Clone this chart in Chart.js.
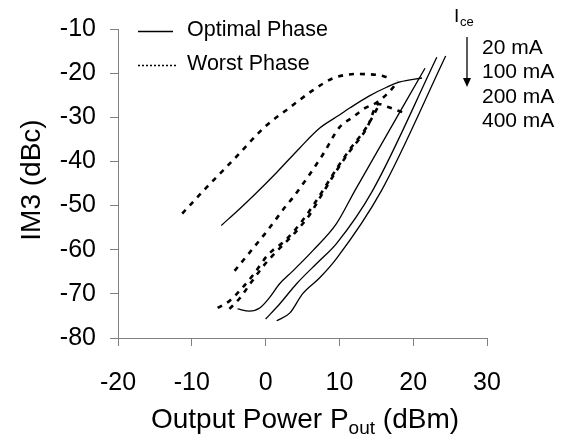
<!DOCTYPE html>
<html>
<head>
<meta charset="utf-8">
<title>IM3 vs output power</title>
<script src="https://cdn.jsdelivr.net/npm/chart.js@4/dist/chart.umd.min.js"></script>
<style>
    html, body { margin: 0; padding: 0; background: #fff; }
    #wrap { width: 570px; height: 445px; position: relative; }
</style>
</head>
<body>
<div id="wrap"><canvas id="im3Chart" width="570" height="445"></canvas></div>
<script>
// Optimal phase (solid lines), output power in dBm and IM3 in dBc
const optPout20 = [-6, -3.5, -1.3, 1.5, 4.6, 7.3, 10, 11.5, 14, 16.4, 18.2, 21.2];
const optIm3_20 = [-54.5, -50.7, -47.2, -42.5, -37, -32.5, -29.5, -27.8, -25.2, -23.2, -22, -21.1];
const optPout100 = [-3.8, -2.2, -0.8, 0.5, 1.9, 3.7, 6.4, 9.6, 12.1, 21.6];
const optIm3_100 = [-73.4, -73.9, -73.2, -70.9, -67.7, -64.8, -60.2, -54.1, -46.6, -18.9];
const optPout200 = [0, 1.9, 4.2, 7.3, 9.6, 14.5, 23.2];
const optIm3_200 = [-75.7, -72.3, -67.7, -62.5, -58.6, -46.6, -16.4];
const optPout400 = [1.5, 3.3, 5.0, 7.3, 9.6, 15.7, 24.4];
const optIm3_400 = [-76.1, -74.3, -70, -66.4, -62, -46.6, -16.1];

// Worst phase (dashed lines)
const worPout20 = [-11.3, -8, -4, 0, 2.8, 6.4, 9.1, 12.3, 15.5, 16.4];
const worIm3_20 = [-51.8, -45.9, -39, -32, -28.4, -23.9, -21.2, -20.2, -20.5, -20.9];
const worPout100 = [-4.2, -2.2, -0.1, 1, 2.8, 3.7, 7.7, 10, 11.8, 13.4, 15.1, 17.2, 17.9];
const worIm3_100 = [-64.8, -60.7, -56.4, -54, -50, -48.2, -38.6, -32.3, -30, -28, -26.6, -23.4, -21.8];
const worPout200 = [-6.5, -4.9, -3.3, -1.5, 0.3, 2.8, 4.9, 6.6, 9.8, 11.4, 13.7, 15.5];
const worIm3_200 = [-73.2, -71.6, -68.9, -65.3, -61.2, -57.7, -53.6, -49.6, -41.2, -37.3, -32.2, -26.8];
const worPout400 = [-4.9, -3.5, -2, -0.2, 1.6, 3.9, 6, 7.3, 9.8, 11.4, 13.7, 15.3, 16.5, 18.6];
const worIm3_400 = [-73.4, -71, -67.5, -63.5, -60.2, -56.3, -52, -48.4, -41.6, -37.7, -32.5, -27, -27.6, -28.9];

const currentLabels = ['20 mA', '100 mA', '200 mA', '400 mA'];
const legendLabels = ['Optimal Phase', 'Worst Phase'];

const FONT = '"Liberation Sans", Arial, sans-serif';
const AXIS_GREY = '#808080';

function toPoints(xs, ys) {
    return xs.map((x, i) => ({ x: x, y: ys[i] }));
}

function solid(label, xs, ys) {
    return {
        label: label,
        data: toPoints(xs, ys),
        borderColor: '#000',
        borderWidth: 1.3,
        pointRadius: 0,
        showLine: true,
        cubicInterpolationMode: 'monotone'
    };
}

function dashed(label, xs, ys) {
    return {
        label: label,
        data: toPoints(xs, ys),
        borderColor: '#000',
        borderWidth: 2.6,
        borderDash: [5, 6],
        pointRadius: 0,
        showLine: true,
        cubicInterpolationMode: 'monotone'
    };
}

// Legend, bias annotation and axis titles (the x title has a subscript)
const annotations = {
    id: 'annotations',
    afterDraw(chart) {
        const ctx = chart.ctx;
        ctx.save();
        ctx.fillStyle = '#000';
        ctx.strokeStyle = '#000';

        // legend
        ctx.lineWidth = 1.3;
        ctx.beginPath();
        ctx.moveTo(138, 31.5);
        ctx.lineTo(173, 31.5);
        ctx.stroke();
        ctx.lineWidth = 1.5;
        ctx.setLineDash([2, 2]);
        ctx.beginPath();
        ctx.moveTo(138, 65.5);
        ctx.lineTo(176, 65.5);
        ctx.stroke();
        ctx.setLineDash([]);

        ctx.font = '21.5px ' + FONT;
        ctx.textBaseline = 'middle';
        ctx.textAlign = 'left';
        ctx.fillText(legendLabels[0], 187, 30);
        ctx.fillText(legendLabels[1], 187, 64);

        // I_ce with arrow
        ctx.font = '19px ' + FONT;
        ctx.textBaseline = 'alphabetic';
        ctx.fillText('I', 454, 22);
        ctx.font = '13px ' + FONT;
        ctx.fillText('ce', 460, 26);

        ctx.lineWidth = 1.3;
        ctx.beginPath();
        ctx.moveTo(467, 37);
        ctx.lineTo(467, 80);
        ctx.stroke();
        ctx.beginPath();
        ctx.moveTo(463, 78);
        ctx.lineTo(471, 78);
        ctx.lineTo(467, 87);
        ctx.closePath();
        ctx.fill();

        ctx.font = '21px ' + FONT;
        ctx.textBaseline = 'middle';
        currentLabels.forEach((txt, i) => {
            ctx.fillText(txt, 482, 48 + i * 24.5);
        });

        // x axis title
        ctx.textBaseline = 'alphabetic';
        const big = '28px ' + FONT;
        const small = '19px ' + FONT;
        const part1 = 'Output Power P';
        const sub = 'out';
        const part2 = ' (dBm)';
        ctx.font = big;
        const w1 = ctx.measureText(part1).width;
        const w3 = ctx.measureText(part2).width;
        ctx.font = small;
        const w2 = ctx.measureText(sub).width;
        let x0 = 305 - (w1 + w2 + w3) / 2;
        const base = 428;
        ctx.font = big;
        ctx.fillText(part1, x0, base);
        ctx.font = small;
        ctx.fillText(sub, x0 + w1, base + 6);
        ctx.font = big;
        ctx.fillText(part2, x0 + w1 + w2, base);

        // y axis title
        ctx.translate(32, 180);
        ctx.rotate(-Math.PI / 2);
        ctx.textAlign = 'center';
        ctx.textBaseline = 'middle';
        ctx.font = big;
        ctx.fillText('IM3 (dBc)', 0, 0);
        ctx.restore();
    }
};

const ctx = document.getElementById('im3Chart');
new Chart(ctx, {
    type: 'scatter',
    data: {
        datasets: [
            solid('Optimal 20 mA', optPout20, optIm3_20),
            solid('Optimal 100 mA', optPout100, optIm3_100),
            solid('Optimal 200 mA', optPout200, optIm3_200),
            solid('Optimal 400 mA', optPout400, optIm3_400),
            dashed('Worst 20 mA', worPout20, worIm3_20),
            dashed('Worst 100 mA', worPout100, worIm3_100),
            dashed('Worst 200 mA', worPout200, worIm3_200),
            dashed('Worst 400 mA', worPout400, worIm3_400)
        ]
    },
    options: {
        responsive: false,
        animation: false,
        layout: {
            padding: { left: 0, right: 83, top: 29, bottom: 0 }
        },
        scales: {
            x: {
                type: 'linear',
                min: -20,
                max: 30,
                ticks: {
                    stepSize: 10,
                    color: '#000',
                    padding: 22,
                    font: { family: FONT, size: 25 }
                },
                grid: {
                    drawOnChartArea: false,
                    drawTicks: true,
                    tickLength: 8,
                    color: AXIS_GREY
                },
                border: { display: true, color: AXIS_GREY, width: 1 },
                afterFit(scale) { scale.height = 107; }
            },
            y: {
                type: 'linear',
                min: -80,
                max: -10,
                ticks: {
                    stepSize: 10,
                    color: '#000',
                    padding: 14,
                    font: { family: FONT, size: 25 }
                },
                grid: {
                    drawOnChartArea: false,
                    drawTicks: true,
                    tickLength: 8,
                    color: AXIS_GREY
                },
                border: { display: true, color: AXIS_GREY, width: 1 },
                afterFit(scale) { scale.width = 118; }
            }
        },
        plugins: {
            legend: { display: false },
            tooltip: { enabled: false }
        }
    },
    plugins: [annotations]
});
</script>
</body>
</html>
